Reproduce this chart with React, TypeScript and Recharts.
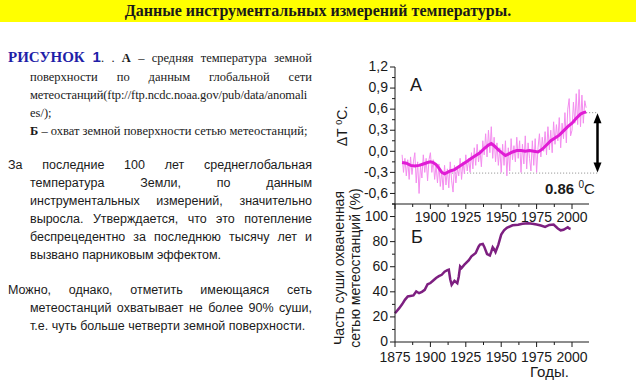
import React from "react";
import { LineChart, Line, XAxis, YAxis, ReferenceLine } from "recharts";

// годовые аномалии температуры, 1880..2010
const annualStartYear = 1880;
const annualAnomaly = [
  -0.05, -0.3, -0.1, -0.35, -0.12, -0.4, -0.08, -0.33, -0.15, -0.02,
  -0.45, -0.15, -0.6, -0.2, -0.38, -0.05, -0.3, -0.1, -0.42, -0.12,
  -0.02, -0.3, -0.12, -0.4, -0.2, -0.45, -0.18, -0.5, -0.28, -0.55,
  -0.2, -0.48, -0.25, -0.52, -0.15, -0.42, -0.58, -0.2, -0.45, -0.25,
  -0.35, -0.1, -0.4, -0.15, -0.32, -0.05, -0.28, -0.1, -0.3, -0.02,
  -0.25, 0.05, -0.2, 0.1, -0.15, 0.02, -0.22, 0.15, -0.05, 0.25,
  -0.08, 0.3, -0.02, 0.35, -0.1, 0.2, -0.15, 0.12, -0.2, 0.05,
  -0.3, 0.1, -0.2, 0.15, -0.35, 0.05, -0.28, 0.18, -0.12, 0.08,
  -0.15, 0.2, -0.1, 0.15, -0.3, 0.1, -0.18, 0.22, -0.25, 0.12,
  -0.1, -0.28, 0.15, -0.2, 0.18, -0.3, 0.05, 0.25, -0.08, 0.2,
  0.0, 0.28, -0.05, 0.35, 0.02, 0.3, -0.02, 0.42, 0.1, 0.38,
  0.15, 0.48, 0.05, 0.4, 0.18, 0.55, 0.12, 0.6, 0.75, 0.22,
  0.3, 0.7, 0.4, 0.82, 0.38, 0.88, 0.35, 0.8, 0.4, 0.72, 0.62,
];

// сглаженная кривая
const smoothYears = [
  1880, 1883, 1886, 1889, 1892, 1895, 1898, 1900, 1902, 1904, 1906, 1908, 1910,
  1912, 1914, 1917, 1920, 1923, 1926, 1929, 1932, 1935, 1938, 1941, 1943, 1945,
  1948, 1951, 1953, 1955, 1958, 1961, 1964, 1967, 1970, 1973, 1976, 1979, 1982,
  1985, 1988, 1991, 1994, 1997, 2000, 2003, 2006, 2008, 2010,
];
const smoothAnomaly = [
  -0.16, -0.17, -0.2, -0.21, -0.2, -0.18, -0.16, -0.15, -0.16, -0.19, -0.24, -0.3, -0.32,
  -0.3, -0.28, -0.26, -0.22, -0.18, -0.14, -0.1, -0.06, -0.02, 0.04, 0.09, 0.11, 0.08,
  0.02, -0.03, -0.06, -0.04, -0.01, 0.01, 0.01, 0.0, 0.01, 0.0, -0.01, 0.03, 0.09,
  0.15, 0.19, 0.23, 0.29, 0.35, 0.4, 0.47, 0.53, 0.55, 0.56,
];

// охват суши сетью метеостанций, %
const coverageYears = [
  1875, 1878, 1880, 1882, 1884, 1888, 1890, 1892, 1894, 1896, 1898, 1900, 1902,
  1904, 1906, 1908, 1910, 1912, 1913, 1914, 1915, 1917, 1919, 1920, 1921, 1922,
  1924, 1927, 1929, 1932, 1934, 1935, 1937, 1938, 1940, 1942, 1943, 1944, 1945,
  1946, 1948, 1950, 1952, 1954, 1958, 1962, 1965, 1969, 1972, 1975, 1978, 1981,
  1984, 1987, 1990, 1992, 1994, 1997, 1998, 1999,
];
const coverageShare = [
  22.9, 27, 30, 33.6, 36.3, 37.1, 40.3, 38.9, 40, 41.6, 46, 47, 49,
  51, 52.5, 53.6, 56, 57.2, 57.6, 50, 45.6, 48.8, 46.9, 52, 60.3, 59,
  61.6, 65, 68.3, 70.9, 76, 77.6, 78.1, 76, 70.1, 69, 72, 75.5, 74,
  71.7, 77.6, 85.6, 89, 91, 93, 93.5, 94.3, 94.7, 94.2, 93.6, 92.8, 91.7,
  93.3, 93.6, 90.5, 89, 89.5, 91.5, 90.5, 90.1,
];

const yearTicks = [1875, 1887.5, 1900, 1912.5, 1925, 1937.5, 1950, 1962.5, 1975, 1987.5, 2000];
const tempTicks = [-0.75, -0.6, -0.45, -0.3, -0.15, 0, 0.15, 0.3, 0.45, 0.6, 0.75, 0.9, 1.05, 1.2];
const coverTicks = [0, 10, 20, 30, 40, 50, 60, 70, 80, 90, 100, 110];

const warmingFrom = { year: 1909, value: -0.31 };
const warmingTo = { year: 2010, value: 0.55 };
const arrowYear = 2018;
const warmingText = "0.86";

const annualData = annualAnomaly.map((v, i) => ({ year: annualStartYear + i, v }));
const smoothData = smoothYears.map((year, i) => ({ year, v: smoothAnomaly[i] }));
const coverageData = coverageYears.map((year, i) => ({ year, v: coverageShare[i] }));

const sans = "'Liberation Sans', Arial, sans-serif";
const serif = "'Liberation Serif', 'Times New Roman', serif";
const ink = "#1a1a1a";

const makeYTick = (isMajor: (v: number) => boolean, fmt: (v: number) => string) => (props: any) => {
  const { x, y, payload } = props;
  const ax = x + 7;
  const major = isMajor(payload.value);
  return (
    <g>
      <line x1={ax} x2={ax - (major ? 5 : 3)} y1={y} y2={y} stroke={ink} />
      {major && (
        <text x={x} y={y} dy="0.3em" textAnchor="end" fontFamily={sans} fontSize={14} fill={ink}>
          {fmt(payload.value)}
        </text>
      )}
    </g>
  );
};

// baseline: расстояние от оси до базовой линии подписи
const makeXTick = (showLabel: (v: number) => boolean, baseline: number) => (props: any) => {
  const { x, y, payload } = props;
  const ay = y - 7;
  const major = payload.value % 25 === 0;
  return (
    <g>
      <line x1={x} x2={x} y1={ay} y2={ay + (major ? 5 : 3)} stroke={ink} />
      {major && showLabel(payload.value) && (
        <text x={x} y={ay + baseline} textAnchor="middle" fontFamily={sans} fontSize={14} fill={ink}>
          {payload.value}
        </text>
      )}
    </g>
  );
};

const tempTick = makeYTick(
  (v) => Math.round(v * 100) % 30 === 0,
  (v) => v.toFixed(1).replace(".", ",")
);
const coverTick = makeYTick((v) => v % 20 === 0, (v) => String(v));

const ArrowShape = (props: any) => {
  const { x1, y1, y2 } = props;
  const top = Math.min(y1, y2);
  const bottom = Math.max(y1, y2);
  return (
    <g>
      <line x1={x1} x2={x1} y1={top + 8} y2={bottom - 8} stroke="#000" strokeWidth={2.5} />
      <polygon points={`${x1 - 4},${top + 10} ${x1 + 4},${top + 10} ${x1},${top}`} fill="#000" />
      <polygon points={`${x1 - 4},${bottom - 10} ${x1 + 4},${bottom - 10} ${x1},${bottom}`} fill="#000" />
    </g>
  );
};

const TextLine: React.FC<{ indent: number; justify: boolean; h?: number; children: React.ReactNode }> = ({
  indent,
  justify,
  h = 18,
  children,
}) => (
  <div
    style={{
      paddingLeft: indent,
      height: h,
      lineHeight: `${h}px`,
      textAlign: justify ? "justify" : "left",
      textAlignLast: justify ? "justify" : "left",
      whiteSpace: "nowrap",
    }}
  >
    {children}
  </div>
);

const para2 = [
  { text: "За последние 100 лет среднеглобальная", indent: 0, justify: true },
  { text: "температура Земли, по данным", indent: 22, justify: true },
  { text: "инструментальных измерений, значительно", indent: 22, justify: true },
  { text: "выросла. Утверждается, что это потепление", indent: 22, justify: true },
  { text: "беспрецедентно за последнюю тысячу лет и", indent: 22, justify: true },
  { text: "вызвано парниковым эффектом.", indent: 22, justify: false },
];
const para3 = [
  { text: "Можно, однако, отметить имеющаяся сеть", indent: 0, justify: true },
  { text: "метеостанций охватывает не более 90% суши,", indent: 22, justify: true },
  { text: "т.е. чуть больше четверти земной поверхности.", indent: 22, justify: false },
];

export default function App() {
  return (
    <div
      style={{
        position: "absolute",
        left: 0,
        top: 0,
        width: 636,
        height: 380,
        background: "#fff",
        overflow: "hidden",
        color: ink,
      }}
    >
      <div
        style={{
          position: "absolute",
          left: 0,
          top: 0,
          width: 636,
          height: 22,
          background: "#ffff00",
          textAlign: "center",
          lineHeight: "22px",
          fontFamily: serif,
          fontWeight: "bold",
          fontSize: 16,
        }}
      >
        Данные инструментальных измерений температуры.
      </div>

      <div style={{ position: "absolute", left: 8, top: 46, width: 304, fontFamily: serif, fontSize: 12.5 }}>
        <TextLine indent={0} justify h={22}>
          <span style={{ color: "#1f1fa8", fontWeight: "bold", fontSize: 15 }}>
            РИСУНОК <span style={{ fontFamily: sans }}>1</span>
          </span>
          . . <b>А</b> – средняя температура земной
        </TextLine>
        <TextLine indent={22} justify>
          поверхности по данным глобальной сети
        </TextLine>
        <TextLine indent={22} justify={false}>
          <span style={{ letterSpacing: -0.1 }}>метеостанций(ftp://ftp.ncdc.noaa.gov/pub/data/anomali</span>
        </TextLine>
        <TextLine indent={22} justify={false}>
          es/);
        </TextLine>
        <TextLine indent={22} justify={false}>
          <b>Б</b> – охват земной поверхности сетью метеостанций;
        </TextLine>
      </div>

      <div style={{ position: "absolute", left: 8, top: 156, width: 304, fontFamily: sans, fontSize: 12.5 }}>
        {para2.map((l, i) => (
          <TextLine key={i} indent={l.indent} justify={l.justify}>
            {l.text}
          </TextLine>
        ))}
      </div>
      <div style={{ position: "absolute", left: 8, top: 281, width: 304, fontFamily: sans, fontSize: 12.5 }}>
        {para3.map((l, i) => (
          <TextLine key={i} indent={l.indent} justify={l.justify}>
            {l.text}
          </TextLine>
        ))}
      </div>

      {/* Б: охват */}
      <div style={{ position: "absolute", left: 330, top: 192 }}>
        <LineChart width={306} height={180} margin={{ top: 12, right: 47, left: 0, bottom: 0 }}>
          <XAxis
            type="number"
            dataKey="year"
            domain={[1875, 2012]}
            ticks={yearTicks}
            interval={0}
            tickSize={5}
            tickMargin={2}
            tickLine={false}
            tick={makeXTick(() => true, 20)}
            stroke={ink}
            height={30}
          />
          <YAxis
            type="number"
            domain={[0, 110]}
            ticks={coverTicks}
            interval={0}
            tickSize={5}
            tickMargin={2}
            tickLine={false}
            tick={coverTick}
            stroke={ink}
            width={65}
          />
          <Line
            data={coverageData}
            dataKey="v"
            type="linear"
            stroke="#7d1f80"
            strokeWidth={2.5}
            dot={false}
            isAnimationActive={false}
          />
        </LineChart>
      </div>

      {/* А: температура */}
      <div style={{ position: "absolute", left: 330, top: 55 }}>
        <LineChart width={306} height={179} margin={{ top: 12, right: 47, left: 0, bottom: 0 }}>
          <XAxis
            type="number"
            dataKey="year"
            domain={[1875, 2012]}
            ticks={yearTicks}
            interval={0}
            tickSize={5}
            tickMargin={2}
            tickLine={false}
            tick={makeXTick((v) => v >= 1900, 18)}
            stroke={ink}
            height={30}
          />
          <YAxis
            type="number"
            domain={[-0.75, 1.2]}
            ticks={tempTicks}
            interval={0}
            tickSize={5}
            tickMargin={2}
            tickLine={false}
            tick={tempTick}
            stroke={ink}
            width={65}
          />
          <ReferenceLine
            segment={[
              { x: warmingFrom.year, y: warmingFrom.value },
              { x: arrowYear, y: warmingFrom.value },
            ]}
            ifOverflow="visible"
            stroke="#8a8a8a"
            strokeDasharray="1 2"
          />
          <ReferenceLine
            segment={[
              { x: warmingTo.year, y: warmingTo.value },
              { x: arrowYear, y: warmingTo.value },
            ]}
            ifOverflow="visible"
            stroke="#8a8a8a"
            strokeDasharray="1 2"
          />
          <Line
            data={annualData}
            dataKey="v"
            type="linear"
            stroke="#f48def"
            strokeWidth={1}
            dot={false}
            isAnimationActive={false}
          />
          <Line
            data={smoothData}
            dataKey="v"
            type="linear"
            stroke="#e01cd5"
            strokeWidth={3}
            dot={false}
            isAnimationActive={false}
          />
          <ReferenceLine
            segment={[
              { x: arrowYear, y: warmingTo.value - 0.01 },
              { x: arrowYear, y: warmingFrom.value + 0.01 },
            ]}
            ifOverflow="visible"
            shape={ArrowShape}
          />
        </LineChart>
      </div>

      {/* подписи */}
      <div
        style={{
          position: "absolute",
          left: 342,
          top: 126,
          transform: "translate(-50%, -50%) rotate(-90deg)",
          whiteSpace: "nowrap",
          fontFamily: sans,
          fontSize: 14,
        }}
      >
        ΔT <sup style={{ fontSize: 9 }}>0</sup>C.
      </div>
      <div
        style={{
          position: "absolute",
          left: 347,
          top: 268,
          transform: "translate(-50%, -50%) rotate(-90deg)",
          whiteSpace: "nowrap",
          fontFamily: sans,
          fontSize: 14,
          lineHeight: "16px",
          textAlign: "center",
        }}
      >
        Часть суши охваченная
        <br />
        сетью метеостанций (%)
      </div>
      <div style={{ position: "absolute", left: 410, top: 75, fontFamily: sans, fontSize: 18 }}>А</div>
      <div style={{ position: "absolute", left: 411, top: 227, fontFamily: sans, fontSize: 18 }}>Б</div>
      <div style={{ position: "absolute", left: 545, top: 179, fontFamily: sans, fontSize: 15, whiteSpace: "nowrap" }}>
        <b>{warmingText}</b> <sup style={{ fontSize: 10 }}>0</sup>C
      </div>
      <div style={{ position: "absolute", left: 530, top: 363, fontFamily: sans, fontSize: 15 }}>Годы.</div>
    </div>
  );
}
